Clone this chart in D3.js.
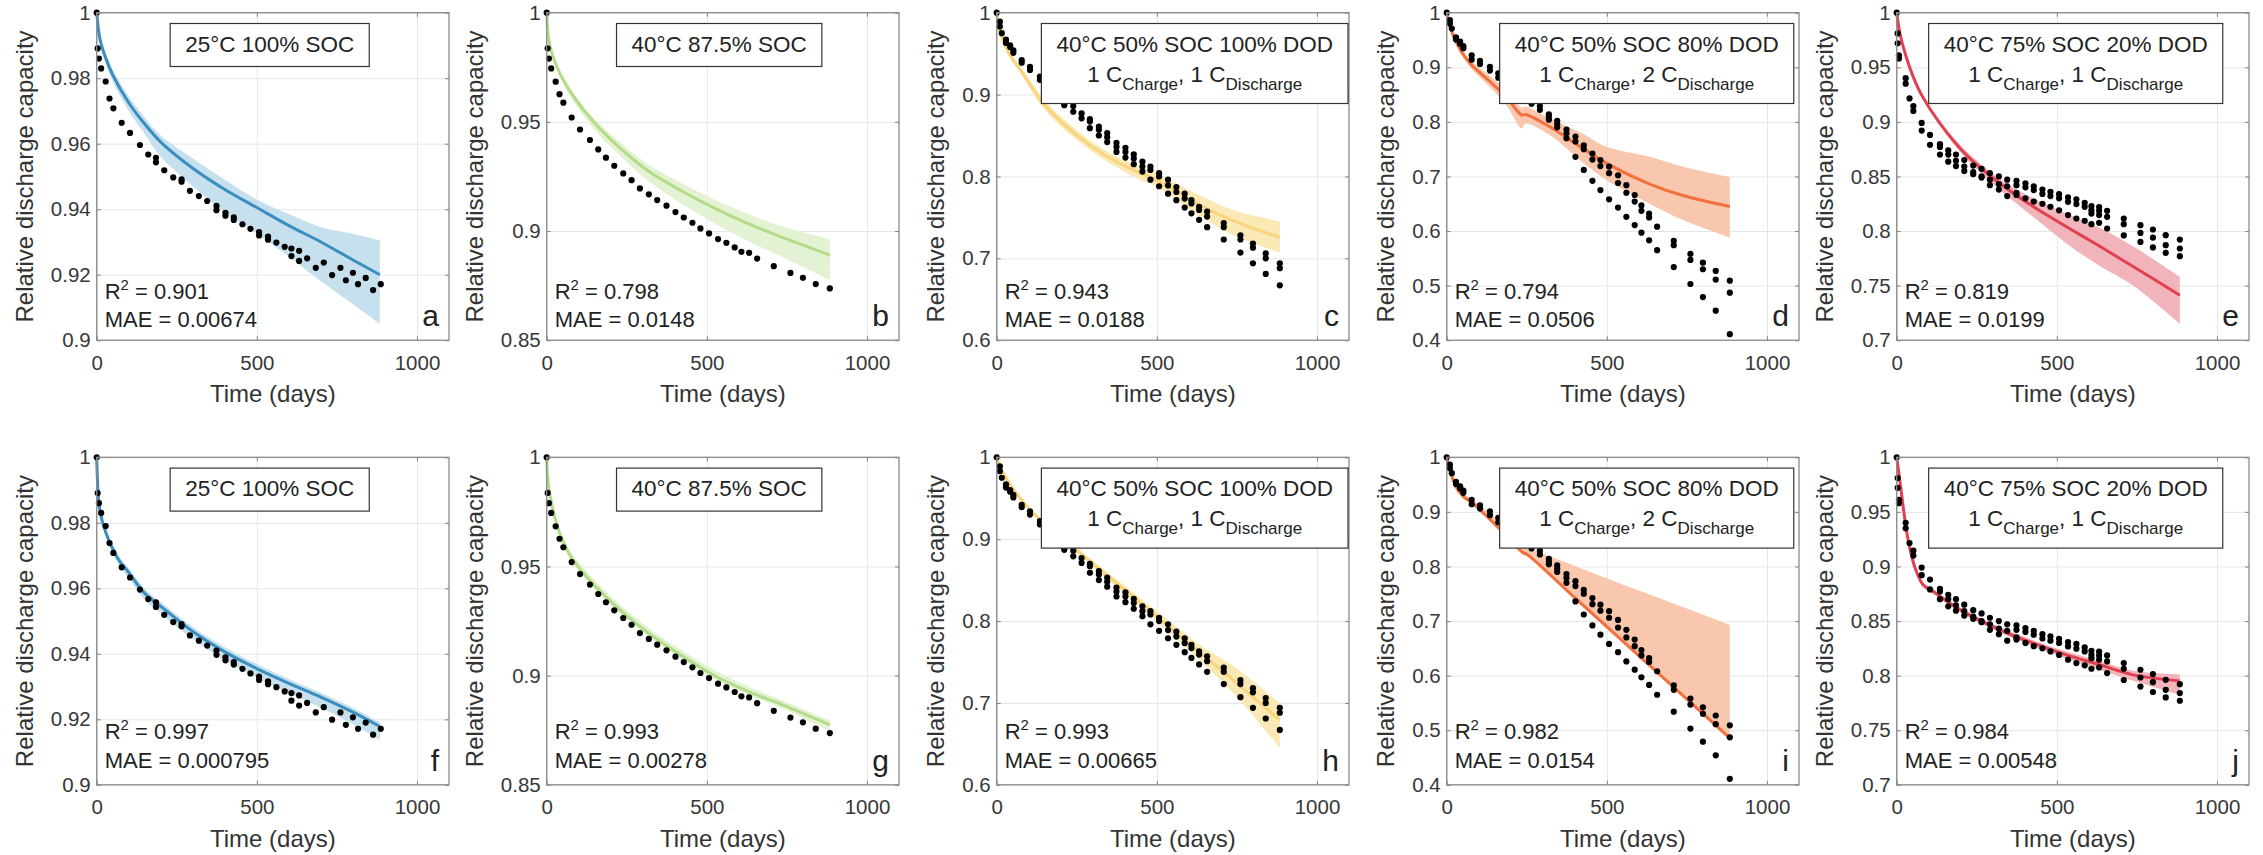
<!DOCTYPE html>
<meta charset="utf-8">
<style>
body { margin: 0; background: #fff; }
svg { display: block; }
</style>
<svg width="2263" height="855"></svg>
<script src="https://cdn.jsdelivr.net/npm/d3@7"></script>
<script>

// ---- measured capacity, rows are [day, cell values...] ----
var obs25 = [[0,1.0],[3,0.9891],[7,0.986],[14,0.983],[28,0.979],[40,0.9738],[52,0.9708],[78,0.9664],[104,0.9633],[135,0.9596],[161,0.9567],[185,0.9557,0.9543],[211,0.9519],[239,0.9497],[265,0.9491,0.9484],[291,0.9456],[319,0.944],[345,0.9425],[374,0.941,0.9397],[402,0.9389,0.938],[428,0.9375,0.9367],[455,0.9354],[480,0.934],[507,0.933,0.932],[535,0.9316,0.9307],[561,0.9298],[587,0.9285],[608,0.928,0.9257],[632,0.9273,0.9242],[657,0.925],[684,0.9221],[709,0.9237],[735,0.9199],[761,0.9221],[778,0.9183],[800,0.9206],[816,0.9171],[840,0.919],[863,0.9153],[887,0.9171]];

var obs40 = [[0,1.0],[3,0.9837],[7,0.979],[14,0.9745],[28,0.9684],[40,0.9627],[52,0.9588],[78,0.952],[104,0.9465],[135,0.9417],[161,0.9374],[185,0.9336],[211,0.9299],[239,0.9264],[265,0.9233],[291,0.9195],[319,0.9168],[345,0.9142],[374,0.9116],[402,0.9087],[428,0.9062],[455,0.9038],[480,0.9012],[507,0.8989],[535,0.8963],[561,0.8946],[587,0.8925],[608,0.8905],[632,0.89],[657,0.8874],[709,0.8839],[761,0.8808],[800,0.8786],[840,0.8757],[884,0.8737]];

var obs100dod = [[0,1.0],[10,0.989,0.983],[16,0.975],[29,0.967,0.963],[42,0.960,0.958],[52,0.954,0.951],[78,0.942,0.939],[104,0.934,0.930],[135,0.922,0.918],[161,0.910,0.905],[185,0.902,0.897],[211,0.889,0.887],[239,0.886,0.879],[265,0.877,0.871],[291,0.870,0.867,0.859],[319,0.861,0.857,0.850],[345,0.853,0.848,0.842],[374,0.841,0.836,0.830],[402,0.835,0.830,0.823],[428,0.827,0.822,0.815],[455,0.818,0.812,0.806],[480,0.812,0.808,0.796],[507,0.804,0.800,0.788],[535,0.796,0.789,0.779],[561,0.787,0.781,0.771],[587,0.779,0.773,0.762],[608,0.771,0.767,0.755],[632,0.763,0.759,0.747],[657,0.757,0.751,0.738],[709,0.743,0.738,0.723],[761,0.728,0.723,0.707],[800,0.718,0.713,0.694],[840,0.706,0.700,0.681],[884,0.694,0.688,0.667]];

var obs80dod = [[0,1.0],[10,0.9866,0.980],[16,0.971],[29,0.955,0.951],[42,0.947,0.943],[52,0.939,0.935],[78,0.922,0.914],[104,0.912,0.906],[135,0.901,0.894],[161,0.889,0.881],[185,0.878,0.870],[211,0.866,0.858],[239,0.853,0.845],[265,0.837,0.833],[291,0.829,0.822],[319,0.814,0.809,0.804],[345,0.802,0.796,0.790],[374,0.786,0.779,0.770],[402,0.773,0.764,0.736],[428,0.757,0.750,0.712],[455,0.742,0.731,0.692],[480,0.730,0.719,0.675],[507,0.718,0.706,0.658],[535,0.702,0.688,0.643],[561,0.684,0.670,0.626],[587,0.666,0.654,0.611],[608,0.647,0.637,0.597],[632,0.632,0.625,0.583],[657,0.608,0.565],[709,0.582,0.574,0.534],[761,0.558,0.547,0.503],[800,0.542,0.530,0.479],[840,0.527,0.511,0.454],[884,0.509,0.487,0.411]];

var obs20dod = [[0,1.0],[3,0.981,0.972],[7,0.961,0.958],[28,0.940,0.935],[40,0.9215],[52,0.9145,0.910],[78,0.899,0.892],[104,0.888,0.879],[135,0.8796,0.877,0.870],[161,0.874,0.870,0.8635],[185,0.870,0.8644,0.8595],[211,0.865,0.859,0.855],[239,0.860,0.854,0.852],[265,0.857,0.850,0.849],[291,0.853,0.847,0.842],[319,0.850,0.843,0.838],[345,0.847,0.841,0.832],[374,0.846,0.842,0.835,0.833],[402,0.8436,0.840,0.830],[428,0.841,0.8375,0.827],[455,0.838,0.834,0.825],[480,0.836,0.832,0.8222],[507,0.8338,0.830,0.819],[535,0.8308,0.8268,0.8146],[561,0.829,0.8247,0.8115],[587,0.8258,0.8222,0.8094],[608,0.8228,0.819,0.816,0.8063],[632,0.822,0.8185,0.8146,0.8075],[657,0.8185,0.813,0.8023],[709,0.8115,0.8063,0.796],[761,0.8054,0.7983,0.790],[800,0.8014,0.794,0.785],[840,0.7962,0.787,0.780],[884,0.7922,0.784,0.777]];

// ---- model fits, rows are [day, prediction, lower, upper] ----
// top row (a-e)
var fitA = [[0,1,1,1],[10,0.992,0.991,0.9925],[25,0.987,0.9855,0.988],[50,0.981,0.979,0.9825],[100,0.9725,0.970,0.9745],[150,0.966,0.963,0.968],[200,0.9605,0.956,0.9625],[300,0.9525,0.947,0.9555],[400,0.946,0.939,0.949],[500,0.9405,0.9325,0.943],[600,0.935,0.9255,0.9385],[700,0.930,0.918,0.9345],[800,0.9245,0.911,0.9325],[884,0.920,0.905,0.9305]];
var fitB = [[0,1,1,1],[10,0.985,0.984,0.986],[40,0.9725,0.971,0.974],[80,0.9625,0.960,0.964],[146,0.950,0.947,0.952],[218,0.9395,0.936,0.942],[322,0.927,0.9225,0.930],[426,0.918,0.912,0.9215],[530,0.910,0.903,0.914],[634,0.903,0.895,0.9075],[738,0.897,0.888,0.902],[884,0.889,0.8775,0.8963]];
var fitC = [[0,1,1,1],[10,0.977,0.975,0.979],[42,0.948,0.945,0.951],[78,0.928,0.924,0.932],[146,0.889,0.883,0.8953],[218,0.861,0.855,0.867],[322,0.830,0.824,0.836],[426,0.808,0.800,0.815],[499,0.7955,0.7874,0.8037],[634,0.765,0.752,0.777],[738,0.746,0.7283,0.759],[884,0.7255,0.707,0.745]];
var fitD = [[0,1,1,1],[10,0.974,0.971,0.977],[42,0.932,0.927,0.937],[78,0.904,0.897,0.911],[135,0.874,0.864,0.884],[187,0.845,0.830,0.858],[234,0.8125,0.788,0.826],[246,0.8135,0.797,0.828],[322,0.791,0.776,0.806],[426,0.751,0.725,0.778],[499,0.724,0.6933,0.7544],[634,0.686,0.650,0.736],[738,0.665,0.620,0.718],[884,0.645,0.588,0.699]];
var fitE = [[0,1,1,1],[10,0.981,0.980,0.982],[28,0.961,0.960,0.962],[52,0.941,0.9395,0.9425],[78,0.9245,0.9225,0.9265],[135,0.8986,0.8965,0.9005],[218,0.8695,0.866,0.873],[322,0.8436,0.8375,0.848],[426,0.8225,0.813,0.830],[530,0.804,0.7886,0.816],[634,0.786,0.768,0.803],[738,0.7675,0.750,0.786],[884,0.7412,0.715,0.758]];
// bottom row (f-j)
var fitF = [[0,1,1,1],[5,0.988,0.9875,0.9885],[10,0.9839,0.9832,0.9846],[20,0.9795,0.9786,0.9803],[40,0.9742,0.9730,0.9752],[70,0.9685,0.967,0.9697],[100,0.9648,0.963,0.9661],[150,0.9585,0.9565,0.9598],[200,0.9545,0.9523,0.9558],[300,0.9468,0.9445,0.9482],[400,0.9406,0.938,0.9420],[500,0.9355,0.9327,0.9369],[600,0.931,0.928,0.9323],[700,0.9268,0.9235,0.9281],[800,0.9222,0.9185,0.9235],[884,0.9178,0.9137,0.919]];
var fitG = [[0,1,1,1],[3,0.991,0.990,0.992],[10,0.983,0.982,0.9845],[30,0.970,0.969,0.9715],[52,0.961,0.960,0.963],[78,0.9538,0.9525,0.956],[114,0.947,0.9455,0.9495],[166,0.9388,0.9372,0.9413],[218,0.9315,0.930,0.934],[322,0.919,0.9175,0.9215],[426,0.9088,0.9073,0.9113],[530,0.8995,0.898,0.902],[634,0.8925,0.891,0.8948],[738,0.8865,0.8848,0.8885],[884,0.8775,0.8745,0.8795]];
var fitH = [[0,1,1,1],[5,0.994,0.993,0.995],[10,0.989,0.988,0.990],[29,0.975,0.9735,0.9765],[52,0.961,0.959,0.963],[78,0.948,0.946,0.950],[114,0.932,0.930,0.934],[218,0.897,0.894,0.900],[322,0.863,0.859,0.867],[426,0.830,0.825,0.835],[530,0.796,0.789,0.803],[634,0.762,0.752,0.771],[738,0.728,0.712,0.745],[884,0.679,0.645,0.700]];
var fitI = [[0,1,1,1],[5,0.988,0.987,0.989],[10,0.9768,0.975,0.978],[29,0.946,0.944,0.949],[52,0.928,0.925,0.932],[78,0.9176,0.914,0.923],[160,0.872,0.868,0.884],[239,0.825,0.821,0.838],[250,0.8225,0.8195,0.835],[400,0.7428,0.739,0.801],[600,0.6366,0.633,0.756],[750,0.557,0.554,0.723],[884,0.4855,0.483,0.693]];
var fitJ = [[0,1,1,1],[10,0.978,0.977,0.979],[21,0.953,0.9515,0.9545],[31,0.932,0.930,0.934],[47,0.909,0.907,0.911],[62,0.895,0.893,0.897],[83,0.883,0.881,0.885],[114,0.877,0.875,0.879],[166,0.8663,0.8643,0.8683],[218,0.857,0.8548,0.8592],[322,0.842,0.8395,0.8445],[426,0.8297,0.8268,0.8325],[530,0.819,0.8155,0.822],[634,0.810,0.8055,0.8135],[738,0.8007,0.7953,0.8044],[884,0.7952,0.7825,0.8011]];

// ---- labels and stats ----
var titleLine1 = ["25°C 100% SOC", "40°C 87.5% SOC", "40°C 50% SOC 100% DOD", "40°C 50% SOC 80% DOD", "40°C 75% SOC 20% DOD"];
var chargeRate = [null, null, "1", "1", "1"];
var dischargeRate = [null, null, "1", "2", "1"];
var r2Top = ["0.901", "0.798", "0.943", "0.794", "0.819"];
var maeTop = ["0.00674", "0.0148", "0.0188", "0.0506", "0.0199"];
var r2Bottom = ["0.997", "0.993", "0.993", "0.982", "0.984"];
var maeBottom = ["0.000795", "0.00278", "0.00665", "0.0154", "0.00548"];
var panelLetters = ["abcde", "fghij"];
var yDomains = [[0.9, 1], [0.85, 1], [0.6, 1], [0.4, 1], [0.7, 1]];
var yTicks = [[0.9, 0.92, 0.94, 0.96, 0.98, 1], [0.85, 0.9, 0.95, 1], [0.6, 0.7, 0.8, 0.9, 1], [0.4, 0.5, 0.6, 0.7, 0.8, 0.9, 1], [0.7, 0.75, 0.8, 0.85, 0.9, 0.95, 1]];
var xTicks = [0, 500, 1000];

var observed = [obs25, obs40, obs100dod, obs80dod, obs20dod];
var fits = [[fitA, fitB, fitC, fitD, fitE], [fitF, fitG, fitH, fitI, fitJ]];
var stats = [[r2Top, maeTop], [r2Bottom, maeBottom]];

// ---- look ----
var lineColors = ["#3a8dbf", "#b2dc88", "#f8d57c", "#f3703d", "#e0404f"];
var bandColors = ["#c6e0ed", "#e3f2d3", "#fbe9b5", "#f9c7ae", "#f2b4bb"];
var FONT = "'Liberation Sans', Arial, Helvetica, sans-serif";

var colX = [96.7, 546.7, 996.7, 1446.7, 1896.7],
    rowY = [12.7, 457.3],
    plotW = 352.3,
    plotH = 327.5;
var boxCx = [173, 172.5, 198, 200, 179];
var statLift = [[41, 13], [46, 17]];

var svg = d3.select("svg").style("font-family", FONT);
var x = d3.scaleLinear().domain([0, 1100]).range([0, plotW]);
var fmt = function(d) { return String(+d.toFixed(2)); };
var curve = d3.curveCatmullRom.alpha(0.5);

function styleTicks(sel) {
  sel.select(".domain").remove();
  sel.selectAll("line").attr("stroke", "#8a8a8a").attr("stroke-width", 1.1);
}

[0, 1].forEach(function(row) {
  observed.forEach(function(obs, col) {
    var fit = fits[row][col];
    var y = d3.scaleLinear().domain(yDomains[col]).range([plotH, 0]);
    var g = svg.append("g").attr("transform", "translate(" + colX[col] + "," + rowY[row] + ")");

    // grid
    g.append("g").call(d3.axisLeft(y).tickValues(yTicks[col]).tickSize(-plotW).tickFormat(""))
      .call(function(s) { s.select(".domain").remove(); s.selectAll("line").attr("stroke", "#e6e6e6"); });
    g.append("g").attr("transform", "translate(0," + plotH + ")")
      .call(d3.axisBottom(x).tickValues(xTicks).tickSize(-plotH).tickFormat(""))
      .call(function(s) { s.select(".domain").remove(); s.selectAll("line").attr("stroke", "#e6e6e6"); });

    // uncertainty band + fit line
    g.append("path").datum(fit)
      .attr("fill", bandColors[col])
      .attr("d", d3.area().x(function(d) { return x(d[0]); }).y0(function(d) { return y(d[2]); }).y1(function(d) { return y(d[3]); }).curve(curve));
    g.append("path").datum(fit)
      .attr("fill", "none").attr("stroke", lineColors[col]).attr("stroke-width", 3)
      .attr("d", d3.line().x(function(d) { return x(d[0]); }).y(function(d) { return y(d[1]); }).curve(curve));

    // measured points
    var pts = obs.flatMap(function(r) { return r.slice(1).map(function(v) { return [r[0], v]; }); });
    g.append("g").selectAll("circle").data(pts).enter().append("circle")
      .attr("cx", function(d) { return x(d[0]); })
      .attr("cy", function(d) { return y(d[1]); })
      .attr("r", 3.1).attr("fill", "#000");

    // axes box and ticks (inside, all four sides)
    g.append("rect").attr("width", plotW).attr("height", plotH)
      .attr("fill", "none").attr("stroke", "#8a8a8a").attr("stroke-width", 1.3);

    var yAx = g.append("g").call(d3.axisLeft(y).tickValues(yTicks[col]).tickSize(-4).tickPadding(6).tickFormat(fmt)).call(styleTicks);
    g.append("g").attr("transform", "translate(" + plotW + ",0)")
      .call(d3.axisRight(y).tickValues(yTicks[col]).tickSize(-4).tickFormat("")).call(styleTicks);
    var xAx = g.append("g").attr("transform", "translate(0," + plotH + ")")
      .call(d3.axisBottom(x).tickValues(xTicks).tickSize(-4).tickPadding(15).tickFormat(d3.format("d"))).call(styleTicks);
    g.append("g").call(d3.axisTop(x).tickValues(xTicks).tickSize(-4).tickFormat("")).call(styleTicks);

    [yAx, xAx].forEach(function(a) {
      a.attr("font-family", null).attr("font-size", null)
        .selectAll("text").attr("font-size", 20.5).attr("fill", "#383838");
    });

    // axis labels
    var maxW = d3.max(yAx.selectAll("text").nodes(), function(n) { return n.getBBox().width; });
    g.append("text")
      .attr("transform", "translate(" + (-(6 + maxW + 18)) + "," + (plotH / 2) + ") rotate(-90)")
      .attr("text-anchor", "middle").attr("font-size", 24).attr("fill", "#333")
      .text("Relative discharge capacity");
    g.append("text")
      .attr("x", plotW / 2).attr("y", plotH + 62)
      .attr("text-anchor", "middle").attr("font-size", 24).attr("fill", "#333")
      .text("Time (days)");

    // condition box
    var tb = g.append("g");
    tb.append("text").attr("x", boxCx[col]).attr("y", 39)
      .attr("text-anchor", "middle").attr("font-size", 22.5).attr("fill", "#222")
      .text(titleLine1[col]);
    var boxH = 43;
    if (chargeRate[col]) {
      var t2 = tb.append("text").attr("x", boxCx[col]).attr("y", 69)
        .attr("text-anchor", "middle").attr("font-size", 22.5).attr("fill", "#222");
      t2.append("tspan").text(chargeRate[col] + " C");
      t2.append("tspan").attr("font-size", 17).attr("dy", 8).text("Charge");
      t2.append("tspan").attr("dy", -8).text(", " + dischargeRate[col] + " C");
      t2.append("tspan").attr("font-size", 17).attr("dy", 8).text("Discharge");
      boxH = 80;
    }
    var bw = tb.node().getBBox().width + 30;
    tb.insert("rect", ":first-child")
      .attr("x", boxCx[col] - bw / 2).attr("y", 10.8)
      .attr("width", bw).attr("height", boxH)
      .attr("fill", "#fff").attr("stroke", "#333").attr("stroke-width", 1.2);

    // fit quality
    var r2 = g.append("text").attr("x", 8).attr("y", plotH - statLift[row][0])
      .attr("font-size", 22).attr("fill", "#222");
    r2.append("tspan").text("R");
    r2.append("tspan").attr("font-size", 15).attr("dy", -9).text("2");
    r2.append("tspan").attr("dy", 9).text(" = " + stats[row][0][col]);
    g.append("text").attr("x", 8).attr("y", plotH - statLift[row][1])
      .attr("font-size", 22).attr("fill", "#222")
      .text("MAE = " + stats[row][1][col]);

    g.append("text").attr("x", plotW - 10).attr("y", plotH - 14)
      .attr("text-anchor", "end").attr("font-size", 30).attr("fill", "#222")
      .text(panelLetters[row][col]);
  });
});

</script>
